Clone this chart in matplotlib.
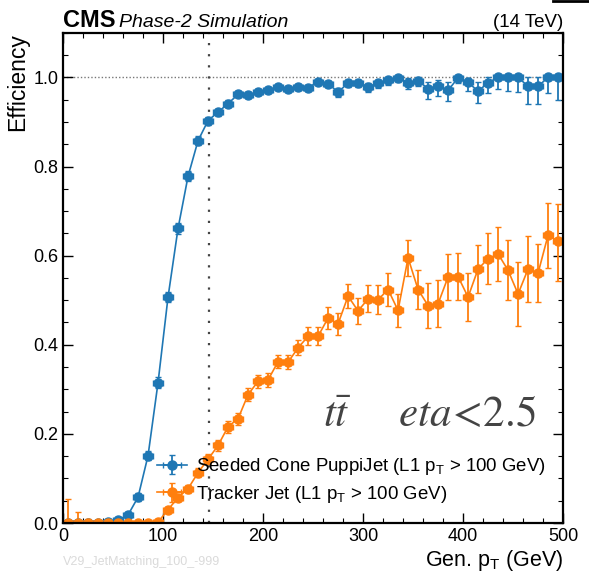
import numpy as np
import matplotlib
matplotlib.use("Agg")
import matplotlib.pyplot as plt
from matplotlib.lines import Line2D
from matplotlib.ticker import MultipleLocator, FormatStrFormatter

plt.rcParams['font.family'] = ['Liberation Sans', 'DejaVu Sans']
plt.rcParams['mathtext.fontset'] = 'custom'
plt.rcParams['mathtext.rm'] = 'Liberation Sans'
plt.rcParams['mathtext.it'] = 'Liberation Sans:italic'

# Generator-level jet pT bin centres (10 GeV bins)
gen_pt = np.arange(5, 500, 10)
bin_half_width = 5

# Seeded Cone PuppiJet efficiency and asymmetric uncertainties
puppi_eff = [0.0, 0.0, 0.0, 0.0, 0.003, 0.007, 0.018, 0.058, 0.151, 0.315,
             0.507, 0.661, 0.778, 0.858, 0.903, 0.922, 0.941, 0.962, 0.960, 0.967,
             0.971, 0.979, 0.975, 0.979, 0.977, 0.990, 0.986, 0.967, 0.987, 0.988,
             0.979, 0.987, 0.994, 0.999, 0.988, 0.992, 0.975, 0.980, 0.971, 0.999,
             0.989, 0.969, 0.988, 1.000, 1.000, 1.000, 0.980, 0.980, 1.000, 1.000]
puppi_err_lo = [0.0, 0.0, 0.0, 0.0, 0.002, 0.003, 0.005, 0.008, 0.010, 0.012,
                0.012, 0.012, 0.011, 0.010, 0.009, 0.008, 0.008, 0.007, 0.007, 0.007,
                0.007, 0.006, 0.007, 0.007, 0.008, 0.007, 0.008, 0.011, 0.009, 0.009,
                0.011, 0.010, 0.010, 0.010, 0.015, 0.012, 0.023, 0.022, 0.023, 0.012,
                0.020, 0.027, 0.022, 0.025, 0.031, 0.032, 0.040, 0.040, 0.034, 0.050]
puppi_err_hi = [0.004, 0.003, 0.003, 0.003, 0.003, 0.004, 0.006, 0.009, 0.010, 0.012,
                0.012, 0.012, 0.011, 0.010, 0.009, 0.008, 0.008, 0.007, 0.007, 0.006,
                0.006, 0.006, 0.006, 0.006, 0.007, 0.005, 0.006, 0.010, 0.007, 0.007,
                0.009, 0.007, 0.005, 0.001, 0.010, 0.008, 0.015, 0.015, 0.018, 0.001,
                0.010, 0.020, 0.012, 0.000, 0.000, 0.000, 0.020, 0.020, 0.000, 0.000]

# Tracker Jet efficiency and asymmetric uncertainties
tracker_eff = [0.0, 0.0, 0.0, 0.0, 0.0, 0.0, 0.0, 0.0, 0.0, 0.002,
               0.030, 0.057, 0.077, 0.113, 0.143, 0.174, 0.216, 0.234, 0.288, 0.318,
               0.321, 0.362, 0.361, 0.393, 0.419, 0.419, 0.460, 0.447, 0.509, 0.476,
               0.503, 0.501, 0.524, 0.477, 0.595, 0.524, 0.488, 0.492, 0.552, 0.553,
               0.507, 0.570, 0.593, 0.604, 0.567, 0.514, 0.570, 0.561, 0.646, 0.632]
tracker_err_lo = [0.0, 0.0, 0.0, 0.0, 0.0, 0.0, 0.0, 0.0, 0.0, 0.002,
                  0.006, 0.008, 0.009, 0.010, 0.011, 0.012, 0.013, 0.013, 0.014, 0.015,
                  0.015, 0.015, 0.015, 0.017, 0.020, 0.020, 0.024, 0.025, 0.027, 0.029,
                  0.030, 0.033, 0.036, 0.037, 0.040, 0.044, 0.050, 0.053, 0.052, 0.053,
                  0.054, 0.054, 0.057, 0.060, 0.067, 0.072, 0.075, 0.066, 0.073, 0.089]
tracker_err_hi = [0.054, 0.025, 0.010, 0.006, 0.005, 0.004, 0.003, 0.003, 0.003, 0.004,
                  0.006, 0.008, 0.009, 0.010, 0.011, 0.012, 0.013, 0.013, 0.014, 0.015,
                  0.015, 0.015, 0.015, 0.017, 0.020, 0.020, 0.024, 0.025, 0.027, 0.029,
                  0.030, 0.033, 0.036, 0.037, 0.040, 0.044, 0.050, 0.053, 0.052, 0.053,
                  0.054, 0.054, 0.057, 0.060, 0.067, 0.072, 0.075, 0.066, 0.073, 0.083]

puppi_label = r"Seeded Cone PuppiJet (L1 p$_\mathrm{T}$ > 100 GeV)"
tracker_label = r"Tracker Jet (L1 p$_\mathrm{T}$ > 100 GeV)"
threshold_line = 146

fig = plt.figure(figsize=(5.89, 5.76), dpi=100)
ax = fig.add_axes([0.107, 0.092, 0.849, 0.851])

common = dict(xerr=bin_half_width, fmt='o-', ms=6.5, lw=1.2, elinewidth=1.3,
              capsize=2, capthick=1.0)
ax.errorbar(gen_pt, puppi_eff, yerr=[puppi_err_lo, puppi_err_hi], color='#1f77b4',
            label=puppi_label, **common)
ax.errorbar(gen_pt, tracker_eff, yerr=[tracker_err_lo, tracker_err_hi], color='#ff7f0e',
            label=tracker_label, **common)

ax.axhline(1.0, color='#777777', ls=(0, (1, 1.5)), lw=1.0, zorder=0)
ax.axvline(threshold_line, color='#444444', ls=(0, (1, 4)), lw=1.6, zorder=0)

ax.set_xlim(0, 500)
ax.set_ylim(0, 1.1)
ax.xaxis.set_major_locator(MultipleLocator(100))
ax.xaxis.set_minor_locator(MultipleLocator(20))
ax.yaxis.set_major_locator(MultipleLocator(0.2))
ax.yaxis.set_minor_locator(MultipleLocator(0.05))
ax.yaxis.set_major_formatter(FormatStrFormatter('%.1f'))
ax.tick_params(which='both', direction='in', top=True, right=True, labelsize=13)
ax.tick_params(which='major', length=7, width=1.0)
ax.tick_params(which='minor', length=3.5, width=0.8)
for sp in ax.spines.values():
    sp.set_linewidth(1.6)

ax.set_xlabel(r"Gen. p$_\mathrm{T}$ (GeV)", fontsize=15.5, loc='right', labelpad=2)
ax.set_ylabel("Efficiency", fontsize=16.5, loc='top', labelpad=3)

ax.legend(loc='lower left', bbox_to_anchor=(0.155, 0.003), frameon=False, fontsize=13.4,
          handlelength=1.6, handletextpad=0.5, labelspacing=0.35)

ax.text(0.52, 0.221, r"$t\bar{t}\quad\ \ eta\!<\!2.5$", transform=ax.transAxes,
        fontsize=31, color='#444444', math_fontfamily='stix', ha='left', va='center')

ax.text(0.0, 1.012, "CMS", transform=ax.transAxes, fontsize=17, fontweight='bold',
        ha='left', va='baseline')
ax.text(0.111, 1.012, "Phase-2 Simulation", transform=ax.transAxes, fontsize=14,
        style='italic', ha='left', va='baseline')
ax.text(1.0, 1.012, "(14 TeV)", transform=ax.transAxes, fontsize=13.5,
        ha='right', va='baseline')

fig.text(0.107, 0.024, "V29_JetMatching_100_-999", fontsize=9, color='#dadada',
         ha='left', va='center')

fig.add_artist(Line2D([553 / 589, 1.0], [0.998, 0.998], transform=fig.transFigure,
                      color='black', lw=2))

fig.savefig("out.png", dpi=100)
